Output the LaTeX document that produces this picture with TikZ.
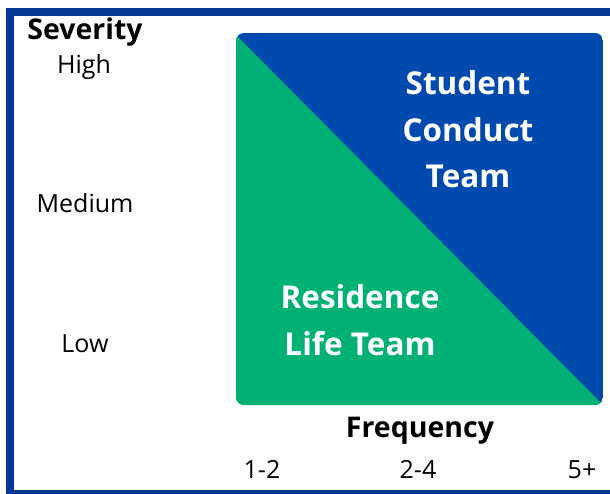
\documentclass[tikz,border=0pt]{standalone}
\usepackage{fontspec}
\setmainfont{Open Sans}
\usetikzlibrary{positioning}
\definecolor{frameblue}{RGB}{4,56,148}
\definecolor{teamblue}{RGB}{0,74,173}
\definecolor{teamgreen}{RGB}{0,176,116}

\begin{document}
\begin{tikzpicture}[x=1pt,y=-1pt,
  axis/.style={font=\fontsize{28.5}{32}\selectfont\bfseries,anchor=base,inner sep=0pt},
  level/.style={font=\fontsize{25}{30}\selectfont,anchor=base,inner sep=0pt},
  team/.style={font=\fontsize{31.5}{46.5}\selectfont\bfseries,text=white,align=center,anchor=base,inner sep=0pt}]
\clip (0,0) rectangle (610,494);
\fill[white] (0,0) rectangle (610,494);
\draw[frameblue,line width=8pt] (10,12) rectangle (640,494);
% the matrix square
\begin{scope}
\clip[rounded corners=8pt] (236,33) rectangle (603,405);
\fill[teamblue] (236,33) rectangle (603,405);
\fill[teamgreen] (236,35) -- (603,405) -- (236,405) -- cycle;
\end{scope}
% severity axis
\node[axis](severity) at (85,40){Severity};
\node[level](high) at (84,74){High};
\node[level](medium) at (85,213){Medium};
\node[level](low) at (85,352){Low};
% frequency axis
\node[axis](frequency) at (420,437){Frequency};
\node[level](f12) at (262,478){1-2};
\node[level](f24) at (418,478){2-4};
\node[level](f5) at (582,478){5+};
% teams (base = last line)
\node[team](conduct) at (468,188){Student\\Conduct\\Team};
\node[team](residence) at (360,355){Residence\\Life Team};
\end{tikzpicture}
\end{document}
